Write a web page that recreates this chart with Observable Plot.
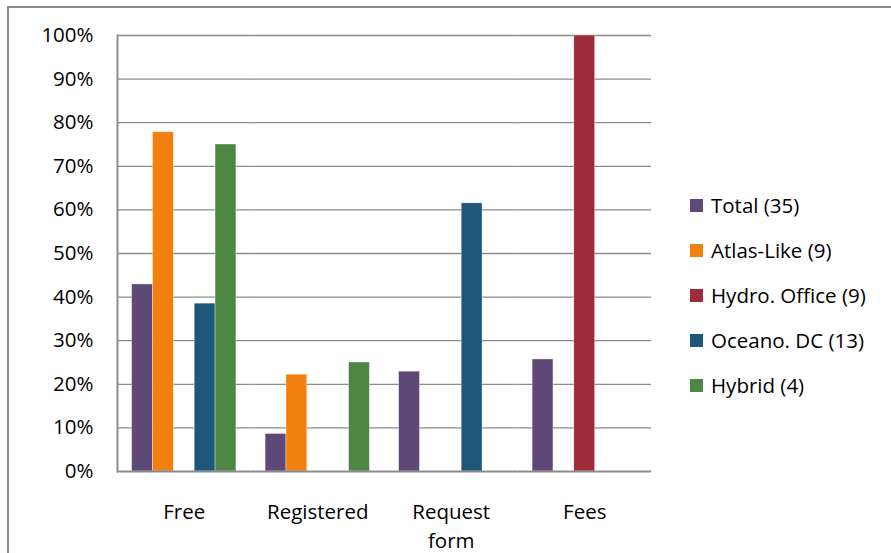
<!DOCTYPE html>
<html>
<head>
<meta charset="utf-8">
<script src="https://cdn.jsdelivr.net/npm/d3@7"></script>
<script src="https://cdn.jsdelivr.net/npm/@observablehq/plot@0.6"></script>
<style>
  html, body { margin: 0; padding: 0; background: #fff; overflow: hidden; }
  #wrap { position: relative; width: 891px; height: 553px; font-family: "Open Sans", sans-serif; }
  #border { position: absolute; left: 7px; top: 6px; width: 900px; height: 600px; border: 2px solid #8c8c8c; box-sizing: border-box; }
  #chart { position: absolute; left: 0; top: 0; }
  #legend { position: absolute; left: 690px; top: 183px; font-size: 20.5px; color: #000; }
  .item { display: flex; align-items: center; height: 45px; line-height: 45px; }
  .sw { width: 13px; height: 13px; margin-right: 8px; }
</style>
</head>
<body>
<div id="wrap">
  <div id="border"></div>
  <div id="chart"></div>
  <div id="legend"></div>
</div>
<script>
const categories = ["Free", "Registered", "Request form", "Fees"];
const series = ["Total (35)", "Atlas-Like (9)", "Hydro. Office (9)", "Oceano. DC (13)", "Hybrid (4)"];
const colors = ["#5F4979", "#F0810F", "#9E2A3A", "#1E577A", "#4E8744"];
const total  = [0.429, 0.086, 0.229, 0.257];
const atlas  = [0.778, 0.222, 0, 0];
const hydro  = [0, 0, 0, 1.0];
const oceano = [0.385, 0, 0.615, 0];
const hybrid = [0.75, 0.25, 0, 0];
const yTicks = [0, 0.1, 0.2, 0.3, 0.4, 0.5, 0.6, 0.7, 0.8, 0.9, 1.0];

const valuesBySeries = [total, atlas, hydro, oceano, hybrid];
const data = [];
categories.forEach((c, ci) => {
  series.forEach((s, si) => {
    data.push({category: c, series: s, value: valuesBySeries[si][ci]});
  });
});

const plot = Plot.plot({
  width: 891,
  height: 553,
  marginLeft: 117,
  marginRight: 240,
  marginTop: 35,
  marginBottom: 82,
  style: {fontFamily: "'Open Sans', sans-serif", fontSize: "20.5px", color: "#000", background: "transparent"},
  fx: {domain: categories, padding: 0, round: false, label: null},
  x: {domain: series, paddingInner: 0, paddingOuter: 0.7, round: false, axis: null},
  y: {domain: [0, 1], label: null},
  color: {domain: series, range: colors},
  marks: [
    Plot.ruleY(yTicks.filter(d => d > 0), {stroke: "#8c8c8c", strokeWidth: 1.3}),
    Plot.barY(data, {fx: "category", x: "series", y: "value", fill: "series", inset: 0, stroke: "#ffffff", strokeWidth: 0.6, strokeOpacity: 0.6}),
    Plot.ruleY([0], {stroke: "#8c8c8c", strokeWidth: 2}),
    Plot.frame({anchor: "left", facetAnchor: "left", stroke: "#8c8c8c", strokeWidth: 2}),
    Plot.axisY({ticks: yTicks, tickFormat: d3.format(".0%"), tickSize: 0, tickPadding: 24, fontSize: 20.5, label: null}),
    Plot.axisFx({anchor: "bottom", tickSize: 0, tickPadding: 27, fontSize: 20.5, label: null, lineHeight: 1.4,
      tickFormat: d => d === "Request form" ? "Request\nform" : d})
  ]
});
document.getElementById("chart").appendChild(plot);

const legend = document.getElementById("legend");
series.forEach((s, i) => {
  const item = document.createElement("div");
  item.className = "item";
  const sw = document.createElement("div");
  sw.className = "sw";
  sw.style.background = colors[i];
  const label = document.createElement("span");
  label.textContent = s;
  item.appendChild(sw);
  item.appendChild(label);
  legend.appendChild(item);
});
</script>
</body>
</html>
